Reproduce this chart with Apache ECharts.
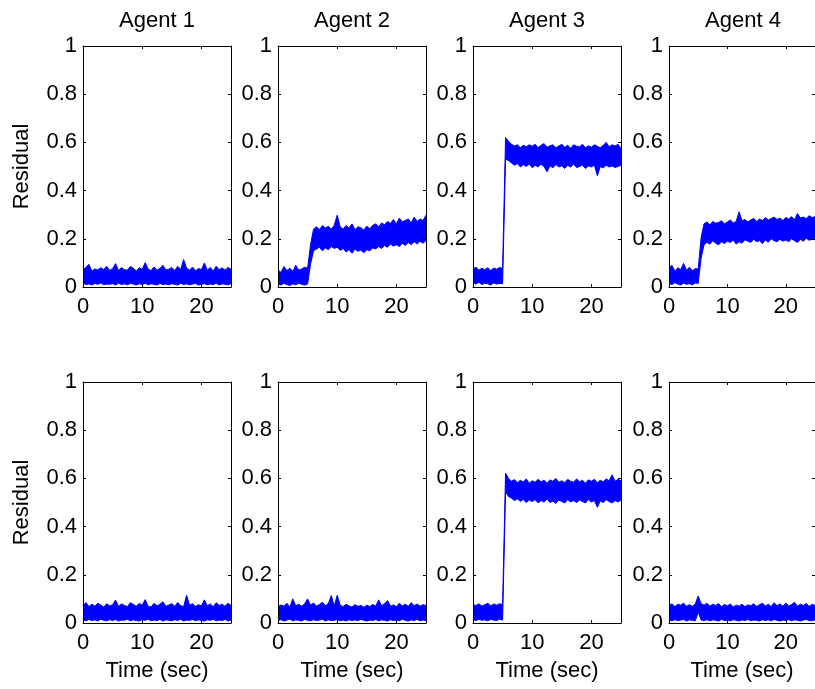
<!DOCTYPE html>
<html>
<head>
<meta charset="utf-8">
<title>Residual</title>
<script src="https://cdn.jsdelivr.net/npm/echarts@6/dist/echarts.min.js"></script>
<style>
html, body { margin: 0; padding: 0; background: #fff; }
#main { width: 815px; height: 689px; }
</style>
</head>
<body>
<div id="main"></div>
<script>
// time samples (sec)
var times = [0, 0.5, 1, 1.5, 2, 2.5, 3, 3.5, 4, 4.5,
	5, 5.5, 6, 6.5, 7, 7.5, 8, 8.5, 9, 9.5,
	10, 10.5, 11, 11.5, 12, 12.5, 13, 13.5, 14, 14.5,
	15, 15.5, 16, 16.5, 17, 17.5, 18, 18.5, 19, 19.5,
	20, 20.5, 21, 21.5, 22, 22.5, 23, 23.5, 24, 24.5,
	25];

var agentNames = [ 'Agent 1', 'Agent 2', 'Agent 3', 'Agent 4' ];

// residual envelope (low / high edge of the noisy trace), top row
var top1High = [0.070, 0.082, 0.094, 0.066, 0.075, 0.071, 0.080, 0.073, 0.086, 0.069,
	0.076, 0.097, 0.068, 0.081, 0.072, 0.070, 0.085, 0.078, 0.066, 0.080,
	0.073, 0.101, 0.075, 0.068, 0.083, 0.070, 0.077, 0.090, 0.071, 0.074,
	0.081, 0.068, 0.086, 0.073, 0.114, 0.078, 0.070, 0.083, 0.067, 0.077,
	0.072, 0.100, 0.070, 0.081, 0.066, 0.086, 0.072, 0.079, 0.070, 0.081,
	0.074];
var top1Low = [0.016, 0.010, 0.013, 0.008, 0.015, 0.011, 0.017, 0.009, 0.012, 0.011,
	0.014, 0.008, 0.016, 0.010, 0.013, 0.009, 0.015, 0.012, 0.008, 0.014,
	0.010, 0.016, 0.009, 0.013, 0.011, 0.008, 0.015, 0.010, 0.012, 0.009,
	0.014, 0.011, 0.008, 0.016, 0.010, 0.013, 0.009, 0.012, 0.015, 0.008,
	0.011, 0.014, 0.009, 0.012, 0.010, 0.016, 0.008, 0.013, 0.011, 0.009,
	0.014];

var top2High = [0.072, 0.060, 0.085, 0.068, 0.078, 0.065, 0.090, 0.070, 0.075, 0.082,
	0.078, 0.175, 0.240, 0.250, 0.238, 0.255, 0.245, 0.252, 0.240, 0.256,
	0.298, 0.250, 0.240, 0.255, 0.245, 0.262, 0.238, 0.250, 0.246, 0.236,
	0.252, 0.242, 0.256, 0.262, 0.250, 0.266, 0.258, 0.272, 0.264, 0.280,
	0.262, 0.286, 0.270, 0.276, 0.282, 0.266, 0.290, 0.272, 0.282, 0.276,
	0.298];
var top2Low = [0.012, 0.008, 0.015, 0.010, 0.006, 0.013, 0.009, 0.016, 0.011, 0.008,
	0.012, 0.095, 0.150, 0.158, 0.165, 0.150, 0.162, 0.155, 0.168, 0.160,
	0.165, 0.152, 0.160, 0.145, 0.155, 0.140, 0.158, 0.148, 0.153, 0.142,
	0.155, 0.150, 0.162, 0.158, 0.168, 0.160, 0.172, 0.165, 0.178, 0.170,
	0.175, 0.168, 0.182, 0.172, 0.185, 0.176, 0.188, 0.178, 0.190, 0.182,
	0.192];

var top3High = [0.075, 0.082, 0.070, 0.078, 0.072, 0.080, 0.068, 0.079, 0.074, 0.081,
	0.077, 0.620, 0.605, 0.592, 0.585, 0.590, 0.578, 0.588, 0.582, 0.590,
	0.584, 0.592, 0.578, 0.588, 0.595, 0.580, 0.586, 0.590, 0.578, 0.585,
	0.592, 0.580, 0.588, 0.576, 0.590, 0.584, 0.582, 0.592, 0.578, 0.586,
	0.580, 0.590, 0.584, 0.578, 0.588, 0.600, 0.582, 0.590, 0.585, 0.592,
	0.575];
var top3Low = [0.018, 0.012, 0.020, 0.010, 0.016, 0.014, 0.008, 0.017, 0.012, 0.015,
	0.014, 0.530, 0.525, 0.515, 0.505, 0.512, 0.498, 0.508, 0.500, 0.510,
	0.495, 0.505, 0.498, 0.510, 0.500, 0.478, 0.502, 0.495, 0.508, 0.498,
	0.503, 0.492, 0.505, 0.498, 0.510, 0.496, 0.500, 0.505, 0.492, 0.502,
	0.498, 0.506, 0.462, 0.500, 0.494, 0.505, 0.498, 0.502, 0.496, 0.500,
	0.505];

var top4High = [0.078, 0.090, 0.065, 0.080, 0.072, 0.098, 0.070, 0.082, 0.068, 0.076,
	0.075, 0.205, 0.262, 0.270, 0.258, 0.272, 0.265, 0.268, 0.275, 0.262,
	0.270, 0.278, 0.266, 0.272, 0.312, 0.275, 0.280, 0.270, 0.278, 0.285,
	0.272, 0.282, 0.276, 0.288, 0.278, 0.284, 0.290, 0.280, 0.286, 0.276,
	0.288, 0.282, 0.292, 0.280, 0.305, 0.286, 0.290, 0.284, 0.296, 0.288,
	0.292];
var top4Low = [0.015, 0.010, 0.018, 0.012, 0.008, 0.016, 0.011, 0.014, 0.009, 0.017,
	0.015, 0.120, 0.175, 0.185, 0.178, 0.192, 0.182, 0.175, 0.188, 0.180,
	0.190, 0.185, 0.195, 0.178, 0.188, 0.182, 0.196, 0.190, 0.185, 0.198,
	0.188, 0.192, 0.180, 0.195, 0.186, 0.200, 0.192, 0.188, 0.198, 0.190,
	0.195, 0.188, 0.200, 0.192, 0.185, 0.198, 0.190, 0.202, 0.194, 0.198,
	0.200];

// bottom row
var bot1High = [0.072, 0.085, 0.068, 0.078, 0.070, 0.082, 0.074, 0.066, 0.080, 0.071,
	0.076, 0.095, 0.069, 0.079, 0.073, 0.068, 0.084, 0.077, 0.070, 0.081,
	0.074, 0.097, 0.070, 0.066, 0.082, 0.071, 0.078, 0.088, 0.069, 0.075,
	0.080, 0.070, 0.085, 0.072, 0.068, 0.115, 0.074, 0.080, 0.069, 0.076,
	0.071, 0.096, 0.072, 0.079, 0.067, 0.084, 0.073, 0.078, 0.069, 0.082,
	0.073];
var bot1Low = [0.012, 0.009, 0.015, 0.010, 0.013, 0.008, 0.016, 0.011, 0.009, 0.014,
	0.010, 0.015, 0.008, 0.012, 0.011, 0.016, 0.009, 0.013, 0.010, 0.008,
	0.014, 0.011, 0.016, 0.009, 0.012, 0.010, 0.015, 0.008, 0.013, 0.011,
	0.009, 0.014, 0.010, 0.016, 0.008, 0.012, 0.011, 0.015, 0.009, 0.013,
	0.010, 0.008, 0.014, 0.011, 0.016, 0.009, 0.012, 0.010, 0.015, 0.008,
	0.012];

var bot2High = [0.068, 0.075, 0.070, 0.082, 0.066, 0.100, 0.072, 0.078, 0.069, 0.080,
	0.100, 0.074, 0.083, 0.070, 0.077, 0.086, 0.072, 0.080, 0.114, 0.070,
	0.115, 0.074, 0.068, 0.078, 0.071, 0.066, 0.076, 0.069, 0.073, 0.065,
	0.074, 0.068, 0.077, 0.070, 0.096, 0.072, 0.080, 0.093, 0.070, 0.075,
	0.068, 0.082, 0.071, 0.078, 0.069, 0.084, 0.072, 0.079, 0.070, 0.076,
	0.073];
var bot2Low = [0.010, 0.014, 0.008, 0.012, 0.016, 0.009, 0.013, 0.011, 0.008, 0.015,
	0.011, 0.009, 0.014, 0.010, 0.012, 0.016, 0.008, 0.013, 0.010, 0.011,
	0.015, 0.009, 0.012, 0.008, 0.014, 0.010, 0.013, 0.009, 0.016, 0.011,
	0.008, 0.012, 0.010, 0.015, 0.009, 0.013, 0.011, 0.008, 0.014, 0.010,
	0.012, 0.009, 0.016, 0.011, 0.008, 0.013, 0.010, 0.015, 0.009, 0.012,
	0.010];

var bot3High = [0.078, 0.072, 0.080, 0.070, 0.076, 0.082, 0.071, 0.079, 0.074, 0.080,
	0.076, 0.622, 0.600, 0.588, 0.595, 0.582, 0.592, 0.585, 0.598, 0.580,
	0.590, 0.584, 0.596, 0.586, 0.592, 0.580, 0.594, 0.588, 0.600, 0.584,
	0.590, 0.582, 0.596, 0.588, 0.584, 0.598, 0.586, 0.592, 0.580, 0.594,
	0.588, 0.596, 0.582, 0.592, 0.586, 0.598, 0.590, 0.615, 0.588, 0.596,
	0.590];
var bot3Low = [0.014, 0.010, 0.016, 0.011, 0.013, 0.009, 0.015, 0.012, 0.010, 0.016,
	0.012, 0.545, 0.525, 0.518, 0.508, 0.515, 0.505, 0.512, 0.500, 0.510,
	0.504, 0.512, 0.498, 0.508, 0.502, 0.514, 0.500, 0.506, 0.496, 0.510,
	0.504, 0.498, 0.512, 0.502, 0.508, 0.500, 0.510, 0.504, 0.498, 0.512,
	0.502, 0.508, 0.480, 0.506, 0.500, 0.512, 0.504, 0.498, 0.508, 0.502,
	0.510];

var bot4High = [0.072, 0.080, 0.068, 0.078, 0.074, 0.082, 0.070, 0.076, 0.069, 0.079,
	0.112, 0.080, 0.074, 0.082, 0.070, 0.078, 0.073, 0.080, 0.068, 0.077,
	0.071, 0.079, 0.066, 0.074, 0.070, 0.078, 0.068, 0.075, 0.072, 0.080,
	0.069, 0.076, 0.082, 0.071, 0.078, 0.068, 0.084, 0.072, 0.079, 0.070,
	0.083, 0.071, 0.077, 0.086, 0.070, 0.078, 0.073, 0.081, 0.069, 0.077,
	0.074];
var bot4Low = [0.011, 0.009, 0.014, 0.010, 0.012, 0.015, 0.008, 0.013, 0.011, 0.009,
	0.045, 0.012, 0.010, 0.014, 0.009, 0.013, 0.011, 0.008, 0.015, 0.010,
	0.012, 0.009, 0.014, 0.011, 0.008, 0.013, 0.010, 0.015, 0.009, 0.012,
	0.011, 0.008, 0.014, 0.010, 0.013, 0.009, 0.015, 0.011, 0.008, 0.012,
	0.010, 0.014, 0.009, 0.013, 0.011, 0.008, 0.012, 0.015, 0.010, 0.009,
	0.013];

var panels = [
	{ low : top1Low, high : top1High }, { low : top2Low, high : top2High },
	{ low : top3Low, high : top3High }, { low : top4Low, high : top4High },
	{ low : bot1Low, high : bot1High }, { low : bot2Low, high : bot2High },
	{ low : bot3Low, high : bot3High }, { low : bot4Low, high : bot4High } ];

var fontName = 'Liberation Sans, Arial, sans-serif';
var fontSize = 22;
var blue = '#0000ff';

var gridLeft = [ 83, 278, 473, 669 ];
var gridTop = [ 46, 382 ];

var grids = [];
var xAxes = [];
var yAxes = [];
var series = [];
var graphics = [];

var axisLine = { show : true, onZero : false, lineStyle : { color : '#000', width : 1 } };
var yTick = { show : true, inside : true, length : 3, lineStyle : { color : '#000' } };
// a tick every 10 s = every 20 samples
var xTick = { show : true, inside : true, length : 3, interval : 19, lineStyle : { color : '#000' } };

for (var k = 0; k < panels.length; k++) {
	var row = Math.floor(k / 4);
	var col = k % 4;
	grids.push({
		left : gridLeft[col],
		top : gridTop[row],
		width : 148,
		height : 241
	});

	// bottom and top x axes (boxed like matlab)
	xAxes.push({
		type : 'category', gridIndex : k, data : times, boundaryGap : false, z : 5,
		axisLine : axisLine, axisTick : xTick, splitLine : { show : false },
		axisLabel : { interval : 19, color : '#000', fontSize : fontSize, fontFamily : fontName, margin : 9 },
		name : row == 1 ? 'Time (sec)' : '',
		nameLocation : 'middle',
		nameGap : 37,
		nameTextStyle : { color : '#000', fontSize : fontSize, fontFamily : fontName }
	});
	xAxes.push({
		type : 'category', gridIndex : k, data : times, boundaryGap : false, position : 'top', z : 5,
		axisLine : axisLine, axisTick : xTick, splitLine : { show : false },
		axisLabel : { show : false }
	});
	// left and right y axes
	yAxes.push({
		type : 'value', gridIndex : k, min : 0, max : 1, interval : 0.2, z : 5,
		axisLine : axisLine, axisTick : yTick, splitLine : { show : false },
		axisLabel : { color : '#000', fontSize : fontSize, fontFamily : fontName, margin : 6 },
		name : col == 0 ? 'Residual' : '',
		nameLocation : 'middle',
		nameGap : 50,
		nameTextStyle : { color : '#000', fontSize : fontSize, fontFamily : fontName }
	});
	yAxes.push({
		type : 'value', gridIndex : k, position : 'right', min : 0, max : 1, interval : 0.2, z : 5,
		axisLine : axisLine, axisTick : yTick, splitLine : { show : false },
		axisLabel : { show : false }
	});

	// lower edge, then the band up to the upper edge stacked on it
	var band = [];
	for (var i = 0; i < times.length; i++) {
		band.push(+(panels[k].high[i] - panels[k].low[i]).toFixed(3));
	}
	series.push({
		type : 'line', xAxisIndex : 2 * k, yAxisIndex : 2 * k,
		stack : 'p' + k, symbol : 'none', silent : true,
		lineStyle : { color : blue, width : 1 },
		data : panels[k].low
	});
	series.push({
		type : 'line', xAxisIndex : 2 * k, yAxisIndex : 2 * k,
		stack : 'p' + k, symbol : 'none', silent : true,
		lineStyle : { color : blue, width : 1 },
		areaStyle : { color : blue, opacity : 1 },
		data : band
	});

	if (row == 0) {
		graphics.push({
			type : 'text',
			x : gridLeft[col] + 74,
			y : 10,
			style : {
				text : agentNames[col],
				fill : '#000',
				fontSize : fontSize,
				fontFamily : fontName,
				textAlign : 'center',
				textVerticalAlign : 'top'
			}
		});
	}
}

var chart = echarts.init(document.getElementById('main'));
var option = {
	animation : false,
	backgroundColor : '#fff',
	grid : grids,
	xAxis : xAxes,
	yAxis : yAxes,
	series : series,
	graphic : graphics
};
chart.setOption(option);
</script>
</body>
</html>
